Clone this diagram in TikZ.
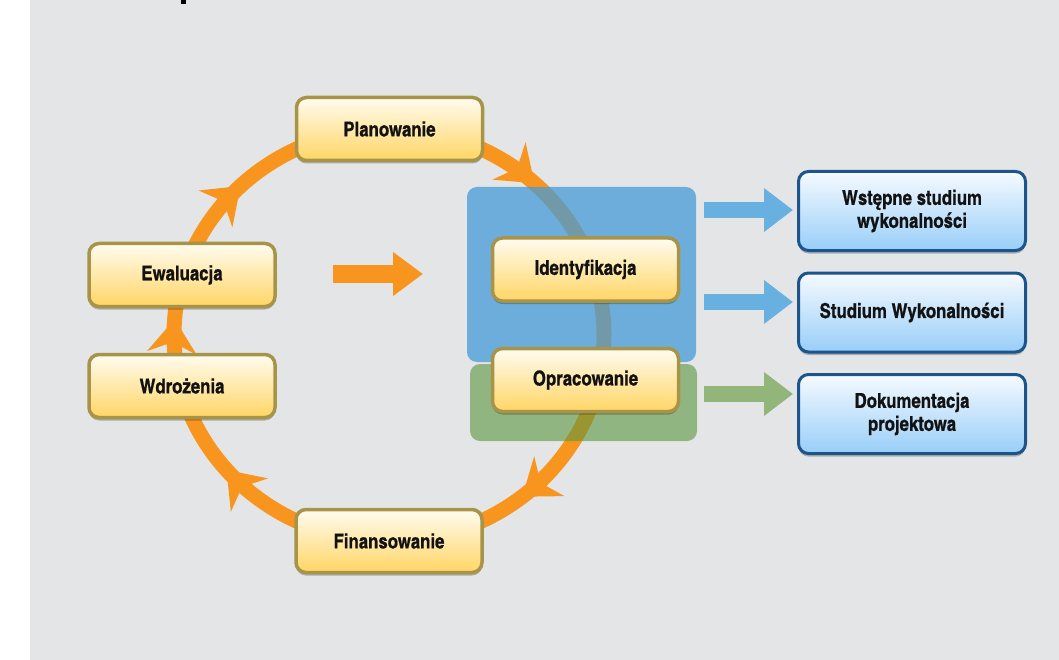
\documentclass[tikz,border=0pt]{standalone}
\usepackage{fontspec}
\newfontfamily\labelfont[FakeBold=0.8]{texgyreheroscn-bold.otf}
\usetikzlibrary{arrows.meta,decorations.markings,shadows,calc}

\definecolor{bggray}{RGB}{228,229,231}
\definecolor{cycleorange}{RGB}{248,149,31}
\definecolor{goldborder}{RGB}{168,148,72}
\definecolor{goldtop}{RGB}{255,252,240}
\definecolor{goldbottom}{RGB}{255,213,100}
\definecolor{navyborder}{RGB}{28,84,140}
\definecolor{skytop}{RGB}{246,250,255}
\definecolor{skybottom}{RGB}{152,206,248}
\definecolor{panelblue}{RGB}{70,155,215}
\definecolor{panelgreen}{RGB}{90,150,60}
\definecolor{arrowblue}{RGB}{104,176,224}
\definecolor{arrowgreen}{RGB}{146,182,122}
\definecolor{inktext}{RGB}{18,18,18}

\begin{document}
\begin{tikzpicture}[x=1pt,y=-1pt,
  boxbase/.style={rounded corners=10pt, inner sep=4pt, align=center,
    text=inktext, font=\labelfont\fontsize{20.5}{23}\selectfont,
    drop shadow={shadow xshift=0pt, shadow yshift=-3pt, opacity=0.25, fill=black}},
  phasebox/.style={boxbase, draw=goldborder, line width=3.5pt,
    top color=goldtop, bottom color=goldbottom,
    minimum width=186pt, minimum height=63pt},
  outbox/.style={boxbase, draw=navyborder, line width=3pt,
    top color=skytop, bottom color=skybottom,
    minimum width=227pt, minimum height=79pt},
  panel/.style={rounded corners=10pt, inner sep=0pt, draw=none},
  ringline/.style={draw=cycleorange, line width=15pt},
  ringtip/.style={decoration={markings,
      mark=at position 0.142 with {\arrow{Stealth[length=34pt,width=50pt,inset=11pt,line width=0pt]}},
      mark=at position 0.388 with {\arrow{Stealth[length=34pt,width=50pt,inset=11pt,line width=0pt]}},
      mark=at position 0.512 with {\arrow{Stealth[length=34pt,width=50pt,inset=11pt,line width=0pt]}},
      mark=at position 0.627 with {\arrow{Stealth[length=34pt,width=50pt,inset=11pt,line width=0pt]}},
      mark=at position 0.870 with {\arrow{Stealth[length=34pt,width=50pt,inset=11pt,line width=0pt]}}},
    postaction={decorate}},
  blockarrow/.style={line width=16pt, -{Triangle[length=29pt,width=42pt]}},
]
\useasboundingbox (0,0) rectangle (1059,660);
\fill[white] (0,0) rectangle (1059,660);
\fill[bggray] (30,0) rectangle (1059,660);
% remnant of the heading above
\fill[black] (181,0) rectangle (186,4);

% project cycle ring with direction marks
\path[ringline, ringtip] (389,335) ellipse [x radius=215, y radius=206];

% translucent phase panels
\node[panel, fill=panelblue, fill opacity=0.75, minimum width=229pt, minimum height=175pt]
  (bpanel) at (581.5,274.5) {};
\node[panel, fill=panelgreen, fill opacity=0.6, minimum width=227pt, minimum height=77pt]
  (gpanel) at (583.5,402.5) {};

% cycle phases
\node[phasebox] (plan) at (389.5,129) {Planowanie};
\node[phasebox] (ident) at (585.5,269.5) {Identyfikacja};
\node[phasebox] (oprac) at (585.5,380) {Opracowanie};
\node[phasebox] (finans) at (389,541) {Finansowanie};
\node[phasebox] (wdroz) at (182,386) {Wdrożenia};
\node[phasebox] (ewal) at (182,275) {Ewaluacja};

% resulting documents
\node[outbox] (w1) at (912,211) {Wstępne studium\\wykonalności};
\node[outbox] (w2) at (912,312.5) {Studium Wykonalności};
\node[outbox] (w3) at (912,414) {Dokumentacja\\projektowa};

% central arrow
\coordinate (os) at (333,274);
\coordinate (oe) at (423,274);
\draw[blockarrow, draw=cycleorange, line width=18pt,
  -{Triangle[length=30pt,width=42pt]}] (os) -- (oe);

% panel outputs
\coordinate (a1) at (704,210);
\coordinate (a2) at (704,302);
\coordinate (a3) at (704,394);
\draw[blockarrow, draw=arrowblue] (a1) -- ($(a1 -| w1.west)+(-4,0)$);
\draw[blockarrow, draw=arrowblue] (a2) -- ($(a2 -| w2.west)+(-4,0)$);
\draw[blockarrow, draw=arrowgreen] (a3) -- ($(a3 -| w3.west)+(-4,0)$);
\end{tikzpicture}
\end{document}
